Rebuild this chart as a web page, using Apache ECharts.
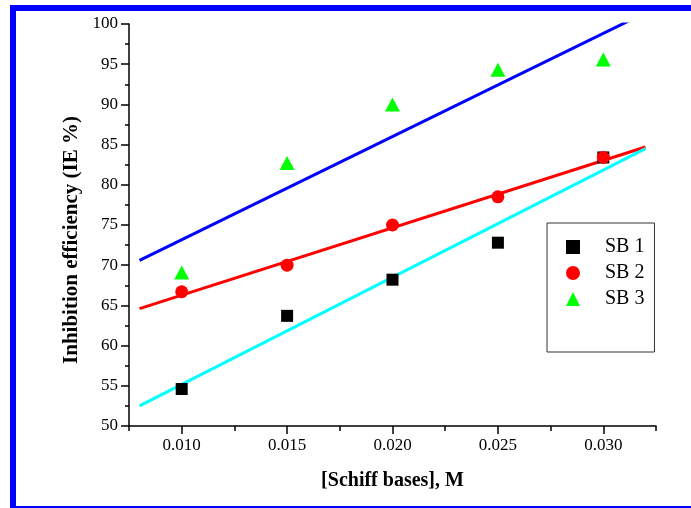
<!DOCTYPE html>
<html>
<head>
<meta charset="utf-8">
<script src="https://cdn.jsdelivr.net/npm/echarts@6/dist/echarts.min.js"></script>
<style>
  html, body { margin: 0; padding: 0; background: #fff; }
  #main { width: 691px; height: 508px; }
</style>
</head>
<body>
<div id="main"></div>
<script>
/* 数据 */
var conc = [0.010, 0.015, 0.020, 0.025, 0.030];
var sb1 = [54.6, 63.7, 68.2, 72.8, 83.4];
var sb2 = [66.7, 70.0, 75.0, 78.5, 83.4];
var sb3 = [69.1, 82.7, 90.0, 94.3, 95.6];

/* 拟合直线 端点 */
var fitX = [0.008, 0.032];
var fit1 = [52.5, 84.5];
var fit2 = [64.6, 84.7];
var fit3 = [70.6, 101.4];

var majorX = [0.010, 0.015, 0.020, 0.025, 0.030];
var minorX = [0.0075, 0.0125, 0.0175, 0.0225, 0.0275, 0.0325];

function pairs(xs, ys) {
  return xs.map(function (x, i) { return [x, ys[i]]; });
}

var font = 'Liberation Serif';

var myChart = echarts.init(document.getElementById('main'));

option = {
  animation: false,
  backgroundColor: '#fff',
  graphic: [{
    type: 'rect',
    shape: { x: 13, y: 8, width: 700, height: 501 },
    style: { fill: 'none', stroke: '#0000ff', lineWidth: 6 },
    silent: true
  }],
  grid: { left: 129, right: 35, top: 24, bottom: 82 },
  legend: {
    orient: 'vertical',
    left: 547,
    top: 223,
    data: ['SB 1', 'SB 2', 'SB 3'],
    itemWidth: 14,
    itemHeight: 14,
    itemGap: 6,
    padding: [14, 10, 43, 19],
    borderColor: '#333',
    borderWidth: 1,
    textStyle: { fontFamily: font, fontSize: 20, color: '#000', padding: [0, 0, 0, 20] }
  },
  xAxis: [{
    type: 'value',
    min: 0.0075,
    max: 0.0325,
    name: '[Schiff bases], M',
    nameLocation: 'middle',
    nameGap: 45,
    nameTextStyle: { fontFamily: font, fontSize: 20, fontWeight: 'bold', color: '#000' },
    splitLine: { show: false },
    axisLine: { lineStyle: { color: '#000', width: 1.5 } },
    axisTick: { customValues: majorX, length: 8, lineStyle: { color: '#000', width: 1.5 } },
    axisLabel: {
      customValues: majorX,
      margin: 11,
      fontFamily: font, fontSize: 17, color: '#000',
      formatter: function (v) { return v.toFixed(3); }
    }
  }, {
    type: 'value',
    min: 0.0075,
    max: 0.0325,
    position: 'bottom',
    offset: 0,
    splitLine: { show: false },
    axisLine: { show: false },
    axisTick: { customValues: minorX, length: 5, lineStyle: { color: '#000', width: 1.5 } },
    axisLabel: { show: false }
  }],
  yAxis: {
    type: 'value',
    min: 50,
    max: 100,
    interval: 5,
    name: 'Inhibition efficiency (IE %)',
    nameLocation: 'middle',
    nameGap: 45,
    nameTextStyle: { fontFamily: font, fontSize: 21, fontWeight: 'bold', color: '#000', padding: [0, 30, 0, 0] },
    splitLine: { show: false },
    axisLine: { show: true, lineStyle: { color: '#000', width: 1.5 } },
    axisTick: { show: true, length: 8, lineStyle: { color: '#000', width: 1.5 } },
    minorTick: { show: true, splitNumber: 2, length: 4, lineStyle: { color: '#000', width: 1.5 } },
    axisLabel: { margin: 11, fontFamily: font, fontSize: 17, color: '#000' }
  },
  series: [
    { name: 'fit3', type: 'line', data: pairs(fitX, fit3), symbol: 'none', clip: true,
      lineStyle: { color: '#0000ff', width: 3 }, z: 2 },
    { name: 'fit2', type: 'line', data: pairs(fitX, fit2), symbol: 'none', clip: true,
      lineStyle: { color: '#ff0000', width: 3 }, z: 2 },
    { name: 'fit1', type: 'line', data: pairs(fitX, fit1), symbol: 'none', clip: true,
      lineStyle: { color: '#00ffff', width: 3 }, z: 2 },
    { name: 'SB 1', type: 'scatter', data: pairs(conc, sb1), symbol: 'rect', symbolSize: 12,
      itemStyle: { color: '#000', opacity: 1 }, z: 3 },
    { name: 'SB 2', type: 'scatter', data: pairs(conc, sb2), symbol: 'circle', symbolSize: 13,
      itemStyle: { color: '#ff0000', opacity: 1 }, z: 4 },
    { name: 'SB 3', type: 'scatter', data: pairs(conc, sb3), symbol: 'triangle', symbolSize: [15, 14],
      itemStyle: { color: '#00ff00', opacity: 1 }, z: 4 }
  ]
};
myChart.setOption(option);
</script>
</body>
</html>
